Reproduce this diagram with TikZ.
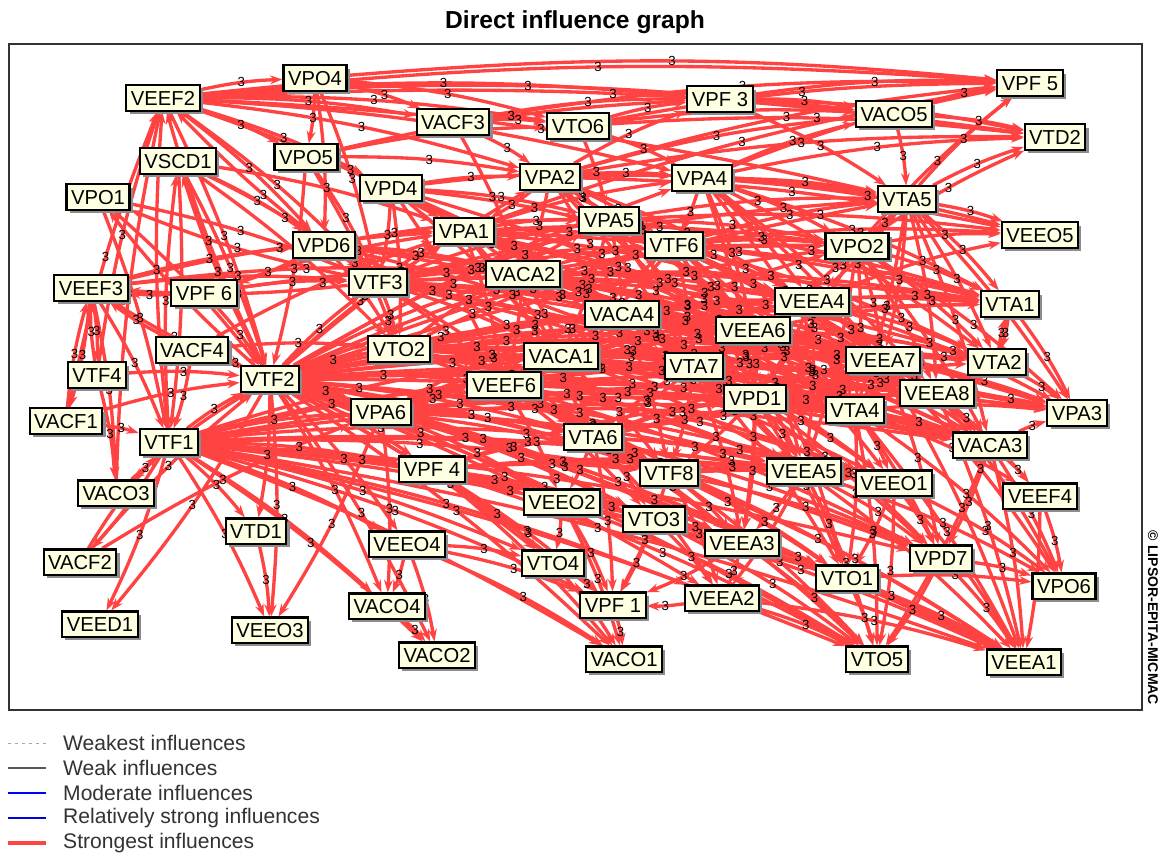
\documentclass[tikz,border=0pt]{standalone}
\usepackage{fontspec}
\setmainfont{Liberation Sans}
\usetikzlibrary{arrows.meta,shadows}
\definecolor{strongred}{RGB}{255,66,66}
\definecolor{boxfill}{RGB}{255,255,226}
\pgfdeclarelayer{edges}
\pgfdeclarelayer{labs}
\pgfsetlayers{edges,labs,main}

% source/{targets} of the strongest influences
\newcommand\infllist{%
VEEF2/{VPO4,VPF5,VACF3,VTO6,VPF3,VPA2,VACO5,VTD2,VPA4,VPO5,VPD4,VTF2,VTF3,VPD6,VPA1,VTA5},
VPO4/{VPF5,VPO5,VPD6,VTF3,VACF3,VTO6},
VACF3/{VPF3,VTO6,VPA2,VPF5,VACA2},
VTO6/{VPF5,VPF3,VTD2,VACO5,VPA4,VPA5},
VPF3/{VPF5,VTD2,VACO5,VTA5},
VPA2/{VPF5,VACO5,VTD2,VPF3,VPA4,VTA5,VEEO5,VTF6,VACA4,VPA5,VEEA4,VACA2,VPA1,VEEA6,VTA7,VPD1,VTA4},
VPA4/{VPF5,VTD2,VEEO5,VTA5,VACO5,VPO2,VEEA4,VTA1,VTF6,VEEA6,VEEA7,VTA2,VPD1,VTA4,VEEA8},
VACO5/{VPF5,VTD2,VTA5},
VTA5/{VPF5,VTD2,VEEO5,VTA1,VTA2,VPA3,VEEA7,VEEA8,VACA3,VPO2,VEEA4,VTA4,VEEA6},
VPO2/{VEEO5,VTA1,VTA2,VPA3,VPF5,VTD2,VEEA7,VEEA8,VTA4,VEEA6,VPD1,VACA3,VEEA5},
VPO5/{VPA2,VPD4,VTF3,VTO2,VTF2,VPF3,VTO6},
VSCD1/{VTF2,VTF1,VPD6,VTF3,VTO2,VPA1},
VPO1/{VTF2,VTF1,VTF3},
VPD4/{VPA2,VPA5,VACA2,VTF6,VPA4,VTF3,VTO2,VACA4,VEEA6,VTA7,VACA1,VEEF6,VPD1},
VPD6/{VPA1,VACA2,VTF3,VTO2,VPA5,VPF6,VACA4,VACA1,VTA7,VEEA6},
VPA1/{VPA5,VTF6,VPA4,VACA4,VEEA6,VTA7,VPO2,VPF5,VEEA4,VACA1,VPD1,VEEA7,VTA4,VTA1,VEEF6,VTA6,VEEA8},
VPA5/{VTF6,VEEA4,VPO2,VTA5,VEEO5,VTA1,VEEA6,VACA4,VTA7,VEEA7,VPD1,VEEA8,VTA4,VACA1},
VTF6/{VEEA4,VPO2,VTA5,VEEO5,VTA1,VEEA7,VTA2,VEEA6,VTA7,VPD1,VEEA8,VTA4,VACA3,VEEA5,VACA1},
VACA2/{VACA4,VTF6,VEEA6,VEEA4,VPO2,VTA1,VTA7,VPD1,VACA1,VEEF6,VEEA7,VTA4,VEEA8,VTA2,VACA3,VTA6},
VEEF3/{VTF4,VACF1,VTF1,VACO3,VTF3,VPD6,VPA1,VACA2},
VPF6/{VTF3,VTF2,VEEF3,VPA1,VACA2},
VTF3/{VACA2,VPA1,VPA5,VTF6,VACA4,VEEA6,VEEA4,VPO2,VTA5,VEEA7,VTA1,VEEF3,VPO1,VEEF2,VTO2,VACA1,VTA7,VPD1,VEEF6,VTA4,VEEA8,VTA6,VACA3},
VEEA4/{VTA1,VTA2,VPA3,VEEO5,VEEA7,VEEA8,VTA4,VPD1,VEEA5,VACA3},
VACA4/{VEEA4,VEEA6,VTA1,VTA2,VEEA7,VPA3,VEEA8,VTA4,VTA7,VPD1,VACA1,VEEA5,VACA3,VEEO1,VTF8},
VEEA6/{VEEA7,VTA2,VPA3,VTA1,VEEA8,VACA3,VPD1,VTA4,VEEA5,VEEO1,VTO1,VEEA3},
VACF4/{VTF2,VTF1,VEEF3,VTO2,VPA1},
VTO2/{VACA1,VACA4,VTA7,VEEA6,VPD1,VEEA7,VTA2,VPA3,VEEA4,VTF6,VPA5,VEEF6,VTA4,VEEA8,VTA6,VACA3,VTF8,VEEA5,VEEO1},
VACA1/{VTA7,VPD1,VEEA6,VEEA7,VTA4,VEEA8,VPA3,VTA2,VACA3,VEEF6,VTA6,VTF8,VEEA5,VEEO1,VEEA4,VTF6,VPO2},
VTA7/{VPD1,VEEA7,VTA4,VEEA8,VPA3,VACA3,VEEA5,VTF8,VEEO1,VTA6,VTO1,VEEA3,VPD7},
VEEA7/{VPA3,VTA2,VEEA8,VACA3,VTA4,VPD7,VEEA1,VPO6},
VTA2/{VPA3,VTA1},
VTA1/{VPA3,VTA2},
VTF4/{VEEF3,VEEF2,VACO3,VTF2},
VTF2/{VSCD1,VPO1,VEEF2,VTD1,VEEO3,VEED1,VEEO4,VACO4,VTO2,VACA1,VACA4,VTA7,VPD1,VEEA6,VEEA7,VTA4,VEEA8,VPA3,VACA3,VTA6,VTF8,VEEA5,VEEO1,VPD7,VTA2,VTA1,VEEA4,VTF6,VPA5,VACA2,VPA1,VTF3,VPA6,VPF4,VEEO2,VTO3,VEEA3,VTO4,VPO2,VTA5,VPA4,VPA2,VEEF3,VEEF6,VTO1,VEEA2,VTO5,VEEA1,VACO1,VPF1,VACO2},
VEEF6/{VPD1,VTA7,VTA4,VEEA5,VEEA8,VACA3,VTF8,VEEO1,VTA6,VEEA3,VEEO2,VTO3,VPD7,VTO1,VEEA6,VEEA4,VEEA7},
VPD1/{VTA4,VEEA8,VPA3,VACA3,VEEA5,VEEO1,VTO1,VPD7,VEEA3,VTF8,VEEA7,VTA2},
VEEA8/{VPA3,VEEF4,VACA3,VPO6,VEEA1},
VACF1/{VTF2,VEEF3,VEEF2,VTF1},
VPA6/{VEEF6,VTA6,VPD1,VTA4,VTF8,VEEA5,VEEO2,VTO3,VEEA3,VTO1,VEEO3,VACO4,VACA1,VTA7,VACA4,VEEA6,VEEA8,VACA3},
VTA4/{VPA3,VACA3,VEEF4,VPO6,VEEA1,VPD7,VTO5,VTO1,VEEO1},
VTF1/{VSCD1,VEEF2,VACO3,VACF2,VEED1,VTD1,VEEO3,VEEO4,VACO4,VACO2,VTO4,VPF1,VACO1,VTA6,VEEO2,VTF8,VTO3,VEEA3,VEEA2,VTO5,VEEA1,VPF4,VPA6,VTF2,VEEF6,VPD1,VTA4,VEEA5,VEEO1,VTO1,VPD7,VACA1,VTA7},
VTA6/{VTF8,VEEA5,VEEO1,VTO3,VEEA3,VTO1,VPD7,VEEA2,VTO5,VEEA1,VPF1,VEEO2,VPD1,VTA4,VEEA6,VEEA7,VEEA8},
VACA3/{VEEF4,VPO6,VEEA1,VTO5,VPD7,VPA3},
VPF4/{VEEO2,VTO4,VTO3,VTF8,VEEA3,VPF1,VACO1,VTO5,VTA6,VEEA5,VPD1,VEEO1},
VTF8/{VEEA3,VTO1,VEEA2,VTO5,VEEA1,VPD7,VPF1,VEEA5,VEEO1},
VEEA5/{VEEO1,VPD7,VTO1,VTO5,VEEA1,VPO6,VEEA3,VEEA2},
VEEO1/{VPD7,VPO6,VEEA1,VTO5,VTO1},
VACO3/{VTF2,VEEF2},
VEEO2/{VTO4,VPF1,VTO3,VEEA3,VTO5,VEEA1,VACO1},
VEEF4/{VEEA1,VPO6},
VTO3/{VPF1,VEEA2,VEEA3,VTO5,VEEA1},
VTD1/{VEEO3},
VEEA3/{VEEA2,VPF1,VTO5,VEEA1,VTO1},
VEEO4/{VACO4,VACO2,VTO4,VPF1,VACO1},
VTO4/{VPF1,VACO1},
VPD7/{VPO6,VEEA1,VTO5},
VACF2/{VTF1,VTF2,VPA6},
VTO1/{VTO5,VEEA1,VPO6},
VEEA2/{VPF1,VTO5,VEEA1},
VACO4/{VACO2},
VPF1/{VACO1}}

\begin{document}
\begin{tikzpicture}[x=0.02cm, y=-0.02cm]
        \tikzset{
            var/.style={draw=black, fill=boxfill, rectangle, line width=1.2pt, font=\fontsize{11.5}{13}\selectfont, text height=8.3pt, text depth=0pt, inner xsep=2.6pt, inner ysep=3pt, drop shadow={shadow xshift=1.8pt, shadow yshift=-1.8pt, fill=black!45, opacity=1}},
            infl/.style={draw=strongred, line width=1.9pt, -{Stealth[length=7pt,width=5pt]}, bend left=5},
            lab/.style={font=\fontsize{7.5}{8}\selectfont, inner sep=0.5pt},
            legtext/.style={anchor=west, font=\fontsize{12}{14}\selectfont, text=black!80},
            weakest/.style={draw=black!35, line width=0.5pt, dash pattern=on 1.5pt off 2.5pt},
            weak/.style={draw=black!65, line width=0.7pt},
            moderate/.style={draw=blue, line width=0.6pt},
            relstrong/.style={draw=blue!85!black, line width=1.4pt},
            strongest/.style={draw=strongred, line width=1.8pt}
        }
        \useasboundingbox (0,0) rectangle (1160,856);

        % Title, frame and credit
        \node[font=\bfseries\fontsize{14}{16}\selectfont] (title) at (575,22) {Direct influence graph};
        \draw[black!80, line width=1pt] (9,44) rectangle (1142,710);
        \node[rotate=-90, font=\bfseries\fontsize{8}{9}\selectfont] (credit) at (1153,618) {© LIPSOR-EPITA-MICMAC};

        % Variables
        \node[var] (VEEF2) at (163,98) {VEEF2};
        \node[var] (VPO4) at (315,78) {VPO4};
        \node[var] (VPF5) at (1030,83) {VPF 5};
        \node[var] (VACF3) at (453,122) {VACF3};
        \node[var] (VTO6) at (578,126) {VTO6};
        \node[var] (VPF3) at (720,99) {VPF 3};
        \node[var] (VACO5) at (894,114) {VACO5};
        \node[var] (VTD2) at (1055,137) {VTD2};
        \node[var] (VSCD1) at (178,161) {VSCD1};
        \node[var] (VPO5) at (306,157) {VPO5};
        \node[var] (VPD4) at (391,188) {VPD4};
        \node[var] (VPA2) at (550,177) {VPA2};
        \node[var] (VPA4) at (702,178) {VPA4};
        \node[var] (VTA5) at (907,199) {VTA5};
        \node[var] (VPO1) at (98,197) {VPO1};
        \node[var] (VPA1) at (464,231) {VPA1};
        \node[var] (VPA5) at (609,220) {VPA5};
        \node[var] (VTF6) at (674,245) {VTF6};
        \node[var] (VPD6) at (324,245) {VPD6};
        \node[var] (VACA2) at (523,274) {VACA2};
        \node[var] (VPO2) at (857,246) {VPO2};
        \node[var] (VEEO5) at (1040,235) {VEEO5};
        \node[var] (VEEF3) at (91,288) {VEEF3};
        \node[var] (VPF6) at (204,293) {VPF 6};
        \node[var] (VTF3) at (378,282) {VTF3};
        \node[var] (VEEA4) at (812,301) {VEEA4};
        \node[var] (VACA4) at (622,314) {VACA4};
        \node[var] (VEEA6) at (753,330) {VEEA6};
        \node[var] (VTA1) at (1010,304) {VTA1};
        \node[var] (VACF4) at (192,350) {VACF4};
        \node[var] (VTO2) at (399,349) {VTO2};
        \node[var] (VACA1) at (561,356) {VACA1};
        \node[var] (VTA7) at (694,366) {VTA7};
        \node[var] (VEEA7) at (883,360) {VEEA7};
        \node[var] (VTA2) at (997,362) {VTA2};
        \node[var] (VTF4) at (97,375) {VTF4};
        \node[var] (VTF2) at (270,379) {VTF2};
        \node[var] (VEEF6) at (504,385) {VEEF6};
        \node[var] (VPD1) at (755,398) {VPD1};
        \node[var] (VEEA8) at (937,393) {VEEA8};
        \node[var] (VPA3) at (1077,413) {VPA3};
        \node[var] (VACF1) at (66,421) {VACF1};
        \node[var] (VPA6) at (381,412) {VPA6};
        \node[var] (VTA4) at (855,410) {VTA4};
        \node[var] (VTF1) at (169,442) {VTF1};
        \node[var] (VTA6) at (593,437) {VTA6};
        \node[var] (VACA3) at (990,445) {VACA3};
        \node[var] (VPF4) at (432,469) {VPF 4};
        \node[var] (VTF8) at (669,473) {VTF8};
        \node[var] (VEEA5) at (804,471) {VEEA5};
        \node[var] (VEEO1) at (894,483) {VEEO1};
        \node[var] (VACO3) at (116,493) {VACO3};
        \node[var] (VEEO2) at (562,502) {VEEO2};
        \node[var] (VEEF4) at (1040,496) {VEEF4};
        \node[var] (VTO3) at (654,519) {VTO3};
        \node[var] (VTD1) at (256,531) {VTD1};
        \node[var] (VEEA3) at (742,543) {VEEA3};
        \node[var] (VEEO4) at (407,544) {VEEO4};
        \node[var] (VTO4) at (553,563) {VTO4};
        \node[var] (VPD7) at (941,558) {VPD7};
        \node[var] (VACF2) at (80,562) {VACF2};
        \node[var] (VTO1) at (847,578) {VTO1};
        \node[var] (VPO6) at (1064,586) {VPO6};
        \node[var] (VPF1) at (613,605) {VPF 1};
        \node[var] (VEEA2) at (722,598) {VEEA2};
        \node[var] (VACO4) at (387,606) {VACO4};
        \node[var] (VEED1) at (100,624) {VEED1};
        \node[var] (VEEO3) at (270,630) {VEEO3};
        \node[var] (VACO2) at (437,655) {VACO2};
        \node[var] (VACO1) at (624,659) {VACO1};
        \node[var] (VTO5) at (877,659) {VTO5};
        \node[var] (VEEA1) at (1024,662) {VEEA1};

        % Strongest influences, then their values on top
        \begin{pgfonlayer}{edges}
        \foreach \s/\tl in \infllist {
            \foreach \t in \tl {\path[infl] (\s) to (\t);}
        }
        \end{pgfonlayer}
        \begin{pgfonlayer}{labs}
        \foreach \s/\tl in \infllist {
            \foreach \t in \tl {\path[bend left=5] (\s) to node[lab] {3} (\t);}
        }
        \end{pgfonlayer}

        % Legend
        \foreach \k/\sty/\txt [count=\i] in {1/weakest/Weakest influences, 2/weak/Weak influences, 3/moderate/Moderate influences, 4/relstrong/Relatively strong influences, 5/strongest/Strongest influences} {
            \node[legtext] (leg\k) at (57,718+25*\i) {\txt};
            \coordinate (legA\k) at (8,718+25*\i);
            \coordinate (legB\k) at (46,718+25*\i);
            \path[\sty] (legA\k) -- (legB\k);
        }
\end{tikzpicture}
\end{document}
